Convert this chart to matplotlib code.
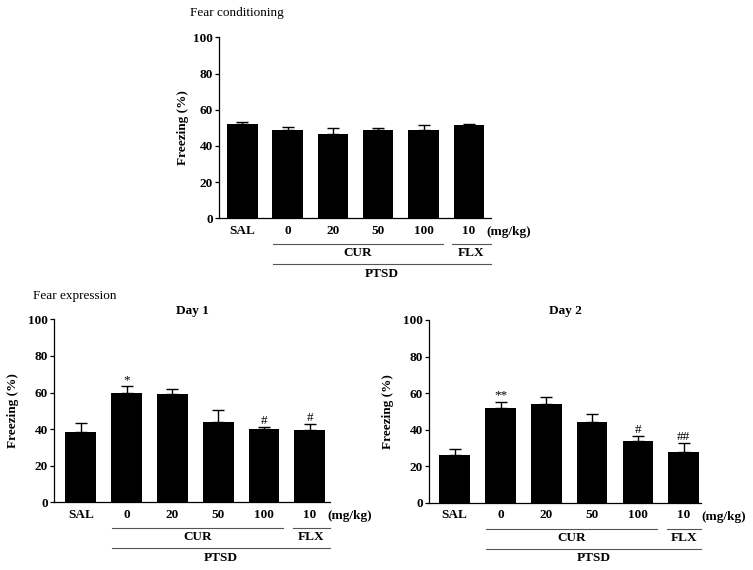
import matplotlib
matplotlib.use("Agg")
import matplotlib.pyplot as plt
import numpy as np

plt.rcParams['font.family'] = ['Liberation Serif', 'DejaVu Serif']

categories = ["SAL", "0", "20", "50", "100", "10"]

cond_mean = [51.9, 49.0, 46.6, 48.8, 48.8, 51.4]
cond_err = [1.5, 1.5, 3.5, 0.9, 2.6, 0.7]

day1_mean = [38.6, 59.6, 59.0, 44.1, 39.9, 39.3]
day1_err = [4.9, 4.0, 2.9, 6.4, 1.4, 3.5]
day1_sig = ["", "*", "", "", "#", "#"]

day2_mean = [26.3, 51.8, 54.0, 44.3, 33.6, 27.7]
day2_err = [2.9, 3.5, 4.0, 4.2, 3.1, 5.0]
day2_sig = ["", "**", "", "", "#", "##"]

W, H = 753, 570
fig = plt.figure(figsize=(W / 100, H / 100), dpi=100)

FS = 9.5


def px_axes(l, t, r, b):
    return fig.add_axes([l / W, 1 - b / H, (r - l) / W, (b - t) / H])


def panel(ax, means, errs, sigs, xlim, ylab_x, title=None):
    x = np.arange(len(categories))
    ax.bar(x, means, width=0.67, color="black", edgecolor="none", zorder=2)
    ax.errorbar(x, means, yerr=[np.zeros(len(errs)), errs], fmt="none",
                ecolor="black", elinewidth=1.0, capsize=4.5, capthick=1.0, zorder=1)
    ax.set_xlim(*xlim)
    ax.set_ylim(0, 100)
    ax.set_yticks([0, 20, 40, 60, 80, 100])
    ax.set_xticks(x)
    ax.set_xticklabels(categories, fontsize=FS, fontweight="bold")
    for lbl in ax.get_yticklabels():
        lbl.set_fontweight("bold")
        lbl.set_fontsize(FS)
    ax.tick_params(axis="x", length=0, pad=4.5)
    ax.tick_params(axis="y", length=3, width=0.9, pad=1.5)
    for s in ["top", "right"]:
        ax.spines[s].set_visible(False)
    for s in ["left", "bottom"]:
        ax.spines[s].set_linewidth(0.9)
    ax.set_ylabel("Freezing (%)", fontsize=FS, fontweight="bold")
    ax.yaxis.set_label_coords(ylab_x, 0.5)
    if title:
        ax.set_title(title, fontsize=FS, fontweight="bold", pad=4)
    if sigs is not None:
        for xi, m, e, s in zip(x, means, errs, sigs):
            if s:
                ax.annotate(s, (xi, m + e), xytext=(0, 0), textcoords="offset points",
                            ha="center", va="bottom", fontsize=FS)
    bbox = ax.get_position()
    hpx = bbox.height * H
    tr = ax.get_xaxis_transform()
    xr = xlim[1]

    def yf(p):
        return -p / hpx

    lc = "#555555"
    ax.plot([0.68, 4.42], [yf(26), yf(26)], color=lc, lw=0.8, transform=tr, clip_on=False)
    ax.plot([4.63, xr], [yf(26), yf(26)], color=lc, lw=0.8, transform=tr, clip_on=False)
    ax.plot([0.68, xr], [yf(46), yf(46)], color=lc, lw=0.8, transform=tr, clip_on=False)
    ax.text((0.68 + 4.42) / 2, yf(35), "CUR", transform=tr, ha="center", va="center",
            fontsize=FS, fontweight="bold")
    ax.text((4.63 + xr) / 2, yf(35), "FLX", transform=tr, ha="center", va="center",
            fontsize=FS, fontweight="bold")
    ax.text((0.68 + xr) / 2, yf(55.5), "PTSD", transform=tr, ha="center", va="center",
            fontsize=FS, fontweight="bold")
    ax.text(5.88, yf(14), "(mg/kg)", transform=tr, ha="center", va="center",
            fontsize=FS, fontweight="bold")


ax1 = px_axes(219.3, 37.3, 490.7, 218.3)
panel(ax1, cond_mean, cond_err, None, (-0.508, 5.48), -0.113)

ax2 = px_axes(54, 319.3, 330, 502.3)
panel(ax2, day1_mean, day1_err, day1_sig, (-0.585, 5.44), -0.128, "Day 1")

ax3 = px_axes(429.3, 320, 700.7, 502.7)
panel(ax3, day2_mean, day2_err, day2_sig, (-0.555, 5.37), -0.129, "Day 2")

fig.text(190 / W, 1 - 13.3 / H, "Fear conditioning", ha="left", va="center", fontsize=9.5)
fig.text(33.3 / W, 1 - 296 / H, "Fear expression", ha="left", va="center", fontsize=9.5)

fig.savefig("out.png", dpi=100)
